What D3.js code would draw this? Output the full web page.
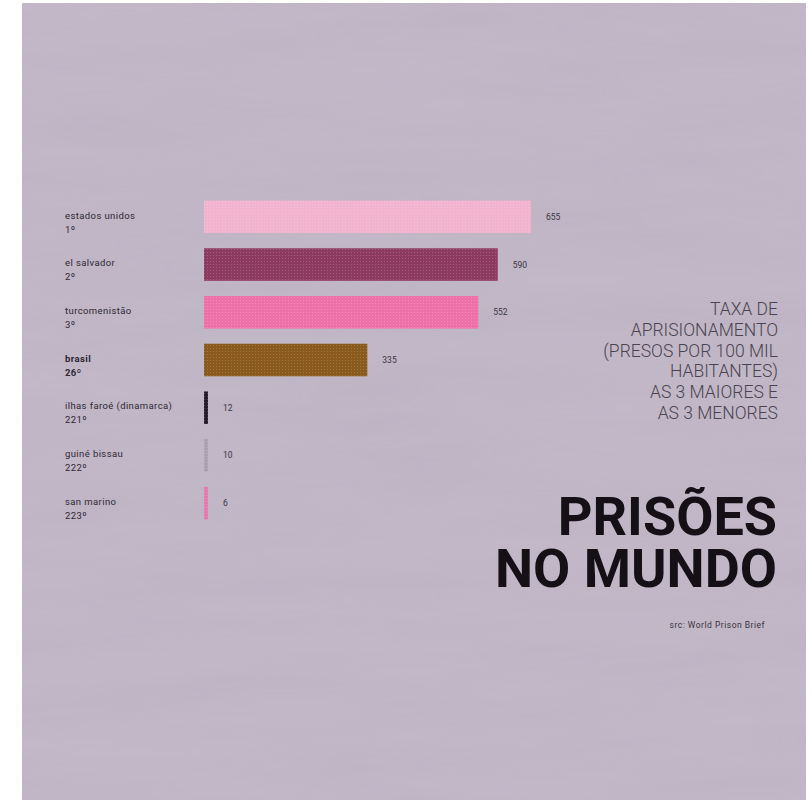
<!DOCTYPE html>
<html lang="pt">
<head>
<meta charset="UTF-8">
<title>Prisões no mundo</title>
<script src="https://cdn.jsdelivr.net/npm/d3@7"></script>
<style>
  body { margin: 0; background: #fff; }
  svg text { font-family: Roboto, "Noto Sans", sans-serif; }
</style>
</head>
<body>
<svg id="chart" width="812" height="807"></svg>
<script>
// dados: taxa de aprisionamento (presos por 100 mil habitantes)
const countries = ["estados unidos", "el salvador", "turcomenistão", "brasil",
                   "ilhas faroé (dinamarca)", "guiné bissau", "san marino"];
const ranks = ["1º", "2º", "3º", "26º", "221º", "222º", "223º"];
const rates = [655, 590, 552, 335, 12, 10, 6];
const barColors = ["#f2b3cf", "#8c3a60", "#ee70a8", "#8a5a1c", "#261c2c", "#a9a1b2", "#e47aae"];

const svg = d3.select("#chart");

// fundo (papel amassado)
const defs = svg.append("defs");
const f = defs.append("filter").attr("id", "paper");
f.append("feTurbulence").attr("type", "fractalNoise")
  .attr("baseFrequency", "0.004 0.03").attr("numOctaves", 3).attr("seed", 4);
f.append("feColorMatrix").attr("type", "matrix")
  .attr("values", "0 0 0 0 0.3  0 0 0 0 0.25  0 0 0 0 0.32  0 0 0 0.12 0");
f.append("feComposite").attr("in2", "SourceGraphic").attr("operator", "in");

const hatch = defs.append("pattern").attr("id", "hatch")
  .attr("width", 3).attr("height", 3).attr("patternUnits", "userSpaceOnUse");
hatch.append("rect").attr("width", 1).attr("height", 1).attr("fill", "rgba(255,255,255,0.18)");

svg.append("rect").attr("x", 22).attr("y", 3).attr("width", 784).attr("height", 797)
  .attr("fill", "#c3b9c9");
svg.append("rect").attr("x", 22).attr("y", 3).attr("width", 784).attr("height", 797)
  .attr("fill", "#fff").attr("filter", "url(#paper)");

// escalas
const x = d3.scaleLinear().domain([0, 655]).range([196, 531]);
const x0 = 204; // linha de base das barras
const y = d3.scaleBand().domain(countries).range([192, 528]).paddingInner(0.36).paddingOuter(0.2);
const barW = v => Math.max(x(v) - x0, 4);

const rows = svg.append("g").selectAll("g")
  .data(countries)
  .join("g");

rows.append("rect")
  .attr("x", x0)
  .attr("y", d => y(d) - 1)
  .attr("width", (d, i) => barW(rates[i]))
  .attr("height", y.bandwidth() + 2)
  .attr("fill", (d, i) => barColors[i]);

rows.append("rect")
  .attr("x", x0)
  .attr("y", d => y(d) - 1)
  .attr("width", (d, i) => barW(rates[i]))
  .attr("height", y.bandwidth() + 2)
  .attr("fill", "url(#hatch)");

rows.append("text")
  .attr("x", (d, i) => x0 + barW(rates[i]) + 15)
  .attr("y", d => y(d) + y.bandwidth() / 2 + 3)
  .attr("font-size", 8.5)
  .attr("fill", "#3a3440")
  .text((d, i) => rates[i]);

// rótulos dos países
const lab = rows.append("text")
  .attr("x", 65)
  .attr("font-size", 9.5)
  .attr("letter-spacing", 0.4)
  .attr("fill", "#2e2834")
  .attr("font-weight", d => d === "brasil" ? 700 : 400);
lab.append("tspan").attr("x", 65).attr("y", d => y(d) + 17).text(d => d);
lab.append("tspan").attr("x", 65).attr("y", d => y(d) + 31).text((d, i) => ranks[i]);

// título lateral
const subLines = ["TAXA DE", "APRISIONAMENTO", "(PRESOS POR 100 MIL", "HABITANTES)",
                  "AS 3 MAIORES E", "AS 3 MENORES"];
svg.append("text")
  .attr("text-anchor", "end")
  .attr("font-size", 17.5)
  .attr("font-weight", 300)
  .attr("fill", "#4a4450")
  .selectAll("tspan")
  .data(subLines)
  .join("tspan")
  .attr("x", 778)
  .attr("y", (d, i) => 315 + i * 20.8)
  .text(d => d);

svg.append("text")
  .attr("text-anchor", "end")
  .attr("font-size", 54)
  .attr("font-weight", 700)
  .attr("fill", "#141016")
  .selectAll("tspan")
  .data(["PRISÕES", "NO MUNDO"])
  .join("tspan")
  .attr("x", 777)
  .attr("y", (d, i) => 535 + i * 52)
  .text(d => d);

svg.append("text")
  .attr("x", 765).attr("y", 628)
  .attr("text-anchor", "end")
  .attr("font-size", 8.5)
  .attr("letter-spacing", 0.5)
  .attr("fill", "#3a3440")
  .text("src: World Prison Brief");
</script>
</body>
</html>
